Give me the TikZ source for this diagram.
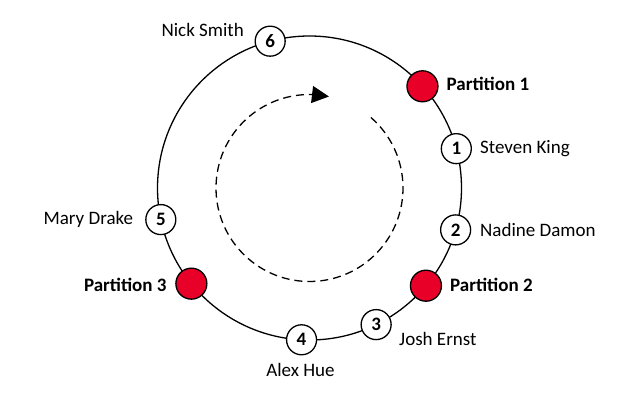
\documentclass[tikz,border=0pt]{standalone}
\usepackage{fontspec}
\setmainfont{Carlito}
\usetikzlibrary{arrows.meta,bending}
\definecolor{pred}{RGB}{232,0,40}
\begin{document}
\begin{tikzpicture}[x=1pt,y=1pt,
  ring/.style={circle,draw,line width=1.3pt,minimum size=304pt,inner sep=0pt,outer sep=0pt},
  num/.style={circle,draw,fill=white,line width=1.3pt,minimum size=30pt,inner sep=0pt,font=\fontsize{19}{19}\selectfont\bfseries},
  part/.style={circle,draw,fill=pred,line width=1.3pt,minimum size=31pt,inner sep=0pt},
  lbl/.style={inner sep=0pt,font=\fontsize{19}{19}\selectfont},
  plbl/.style={inner sep=0pt,font=\fontsize{19}{19}\selectfont\bfseries}]
\useasboundingbox (0,0) rectangle (623,404);
\node[ring] (ring) at (309.5,216) {};
\draw[line width=1.3pt,dash pattern=on 8pt off 5pt,-{Triangle[length=17pt,width=17pt]}]
  ([shift={(49:93.5)}]ring.center) arc[start angle=49,end angle=-282,radius=93.5];
\node[num] (n6) at (ring.105) {6};
\node[part] (p1) at (ring.42.7) {};
\node[num] (n1) at (ring.15.7) {1};
\node[num] (n2) at (ring.-16.4) {2};
\node[part] (p2) at (ring.-40.2) {};
\node[num] (n3) at (ring.-64.4) {3};
\node[num] (n4) at (ring.-93.2) {4};
\node[part] (p3) at (ring.219.7) {};
\node[num] (n5) at (ring.192.1) {5};
\node[lbl,anchor=base east] (l6) at (244,367.3) {Nick Smith};
\node[plbl,anchor=base west] (lp1) at (446.5,313) {Partition 1};
\node[lbl,anchor=base west] (l1) at (480,250.7) {Steven King};
\node[lbl,anchor=base west] (l2) at (480,167.7) {Nadine Damon};
\node[plbl,anchor=base west] (lp2) at (450,112.5) {Partition 2};
\node[lbl,anchor=base west] (l3) at (399,58.3) {Josh Ernst};
\node[lbl,anchor=base] (l4) at (300.5,27.3) {Alex Hue};
\node[plbl,anchor=base east] (lp3) at (166.7,112.3) {Partition 3};
\node[lbl,anchor=base east] (l5) at (133.3,179) {Mary Drake};
\end{tikzpicture}
\end{document}
